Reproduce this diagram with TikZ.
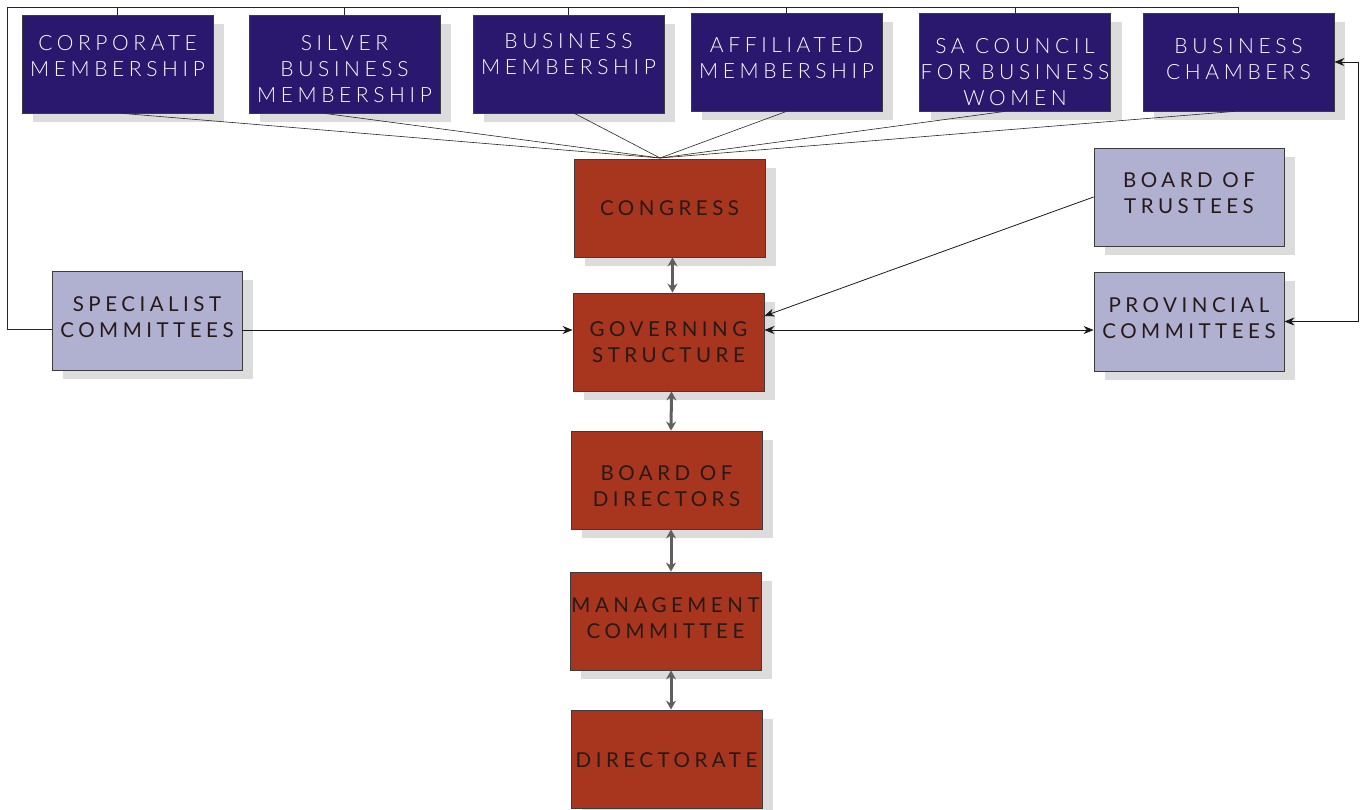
\documentclass[tikz,border=0pt]{standalone}
\usepackage{fontspec}
\setmainfont{Lato}[UprightFont=* Light, LetterSpace=22]
\newfontfamily\latoreg{Lato}[LetterSpace=22]
\usetikzlibrary{arrows.meta,shadows}
\definecolor{navy}{RGB}{42,23,110}
\definecolor{brick}{RGB}{168,54,30}
\definecolor{lilac}{RGB}{176,176,208}
\definecolor{shade}{RGB}{220,220,220}
\definecolor{edge}{RGB}{60,60,60}
\definecolor{darktext}{RGB}{40,25,25}
\definecolor{garrow}{RGB}{95,95,95}
\tikzset{
  box/.style={draw=edge, line width=0.8pt, minimum width=191pt, minimum height=98pt,
    inner sep=0pt,
    drop shadow={shadow xshift=11pt, shadow yshift=-9pt, fill=shade, opacity=1}},
  topbox/.style={box, fill=navy},
  redbox/.style={box, fill=brick},
  sidebox/.style={box, fill=lilac, minimum width=190pt},
  wtxt/.style={inner sep=0pt, align=center, font=\fontsize{21}{26}\selectfont, text=white},
  dtxt/.style={inner sep=0pt, align=center, font=\latoreg\fontsize{20.5}{26}\selectfont, text=darktext},
  thin/.style={line width=0.6pt, draw=black!85},
  garr/.style={line width=3pt, draw=garrow, {Stealth[length=9pt,width=10pt]}-{Stealth[length=9pt,width=10pt]}},
  barr/.style={line width=0.8pt, draw=black!90, -{Stealth[length=10pt,width=8pt]}},
  bbarr/.style={line width=0.8pt, draw=black!90, {Stealth[length=10pt,width=8pt]}-{Stealth[length=10pt,width=8pt]}}
}
\begin{document}
\begin{tikzpicture}[x=1pt,y=-1pt]
\useasboundingbox (0,0) rectangle (1365,810);
% top boxes
\node[topbox] (corp) at (117.5,64) {};
\node[topbox] (silver) at (344.5,64) {};
\node[topbox] (bus) at (568.5,64) {};
\node[topbox] (aff) at (786.5,62) {};
\node[topbox] (sac) at (1015,62) {};
\node[topbox] (cham) at (1238.5,62) {};
\node[wtxt] (corp-t) at ([yshift=8pt]corp.center) {CORPORATE\\MEMBERSHIP};
\node[wtxt] (silver-t) at ([yshift=-5pt]silver.center) {SILVER\\BUSINESS\\MEMBERSHIP};
\node[wtxt] (bus-t) at ([yshift=9.5pt]bus.center) {BUSINESS\\MEMBERSHIP};
\node[wtxt] (aff-t) at ([yshift=3.5pt]aff.center) {AFFILIATED\\MEMBERSHIP};
\node[wtxt] (sac-t) at ([yshift=-10pt]sac.center) {SA COUNCIL\\FOR BUSINESS\\WOMEN};
\node[wtxt] (cham-t) at ([yshift=3pt]cham.center) {BUSINESS\\CHAMBERS};
% central column
\node[redbox] (cong) at (669.5,208) {};
\node[redbox] (gov) at (668.5,342) {};
\node[redbox] (bod) at (666.5,480) {};
\node[redbox] (mgmt) at (665.5,621) {};
\node[redbox] (dir) at (666.5,759) {};
\node[dtxt] (cong-t) at (cong.center) {CONGRESS};
\node[dtxt] (gov-t) at (gov.center) {GOVERNING\\STRUCTURE};
\node[dtxt] (bod-t) at ([yshift=-6.5pt]bod.center) {BOARD OF\\DIRECTORS};
\node[dtxt] (mgmt-t) at ([yshift=3pt]mgmt.center) {MANAGEMENT\\COMMITTEE};
\node[dtxt] (dir-t) at ([yshift=-1pt]dir.center) {DIRECTORATE};
% side boxes
\node[sidebox, minimum height=99pt] (spec) at (147,320.5) {};
\node[sidebox] (trust) at (1189,197) {};
\node[sidebox, minimum height=99pt] (prov) at (1189,321.5) {};
\node[dtxt] (spec-t) at ([yshift=3.5pt]spec.center) {SPECIALIST\\COMMITTEES};
\node[dtxt] (trust-t) at ([yshift=3.5pt]trust.center) {BOARD OF\\TRUSTEES};
\node[dtxt] (prov-t) at ([yshift=3.5pt]prov.center) {PROVINCIAL\\COMMITTEES};
% fan into congress
\coordinate (cg) at (660,158);
\draw[thin] ([xshift=5pt]corp.south) -- (cg);
\draw[thin] ([xshift=-20pt]silver.south) -- (cg);
\draw[thin] ([xshift=6pt]bus.south) -- (cg);
\draw[thin] (aff.south) -- (cg);
\draw[thin] ([xshift=-10pt]sac.south) -- (cg);
\draw[thin] ([xshift=-4pt]cham.south) -- (cg);
% top tie line and loop
\coordinate (tl) at (7,7);
\coordinate (hl) at (0,329);
\draw[thin] (spec.west |- hl) -| (tl) -| (cham.north);
\foreach \n in {corp,silver,bus,aff,sac}
  \draw[thin] (\n.north) -- (\n.north |- tl);
% vertical double arrows
\draw[garr] ([xshift=3pt]cong.south) -- ([xshift=4pt]gov.north);
\draw[garr] ([xshift=3pt]gov.south) -- ([xshift=4.5pt]bod.north);
\draw[garr] ([xshift=4.5pt]bod.south) -- ([xshift=5.5pt]mgmt.north);
\draw[garr] ([xshift=5.5pt]mgmt.south) -- ([xshift=4.5pt]dir.north);
% side connections
\coordinate (hm) at (0,330);
\draw[barr] (spec.east |- hm) -- (gov.west |- hm);
\draw[bbarr] (gov.east |- hm) -- (prov.west |- hm);
\draw[barr] (trust.west) -- ([yshift=26pt]gov.east);
\draw[bbarr] (prov.east) -- ++(74,0) |- (cham.east);
\end{tikzpicture}
\end{document}
